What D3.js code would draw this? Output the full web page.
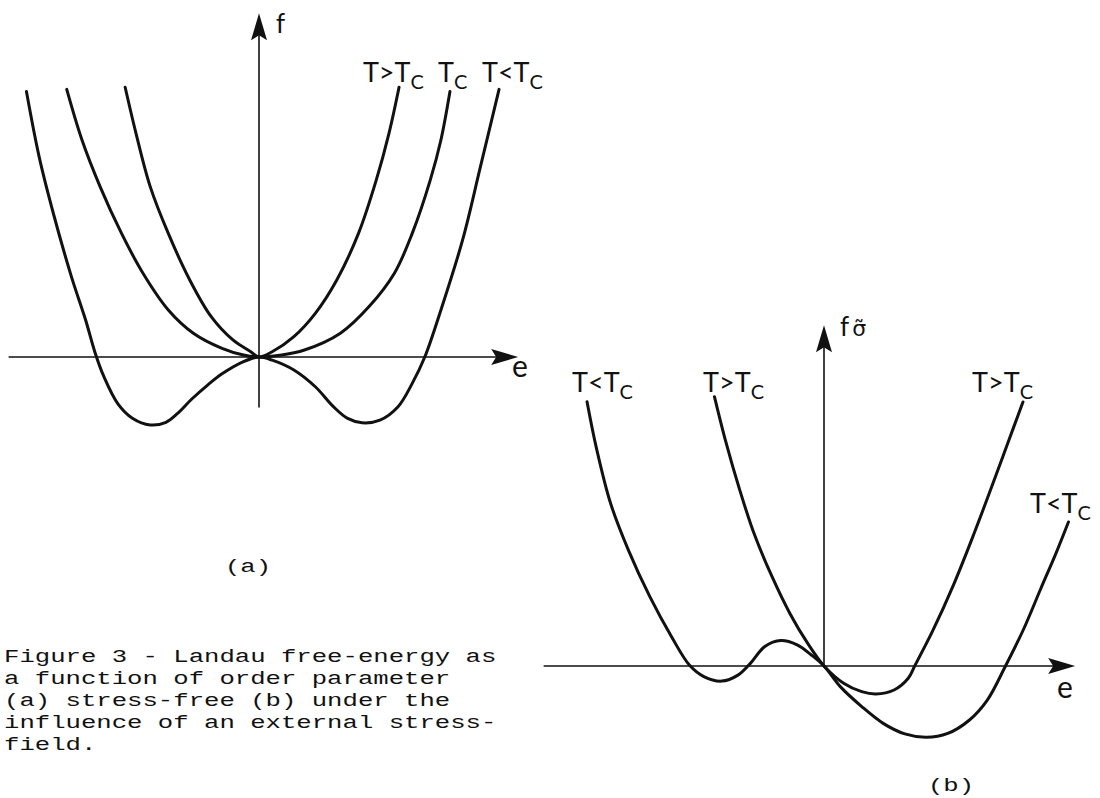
<!DOCTYPE html>
<html>
<head>
<meta charset="utf-8">
<script src="https://cdn.jsdelivr.net/npm/d3@7/dist/d3.min.js"></script>
<style>
  body { margin: 0; background: #fff; }
  .curve { fill: none; stroke: #111; stroke-width: 3; stroke-linejoin: round; stroke-linecap: round; }
  .axis  { stroke: #111; stroke-width: 1.6; }
  .lbl   { font-family: Lato, "Open Sans", sans-serif; fill: #111; }
  .cap   { font-family: "Courier New", "Liberation Mono", monospace; fill: #111; font-size: 19px; }
</style>
</head>
<body>
<svg id="fig" width="1100" height="798"></svg>
<script>
// ---- panel (a): stress free, points [e, f]
var aAbove = [[-51.8,112.4],[-47.6,93.2],[-42.1,71.0],[-35.1,51.5],[-26.8,32.1],[-18.5,16.8],
  [-10.1,7.1],[-3.2,2.2],[0,0],[5.1,2.2],[13.5,8.5],[21.8,18.2],[30.1,32.1],[38.5,51.5],
  [45.4,73.8],[50.3,93.2],[54.2,112.4]];
var aCrit = [[-74.4,111.5],[-68.5,90.4],[-61.5,71.0],[-53.2,51.5],[-44.9,34.9],[-35.1,19.6],
  [-25.4,9.9],[-14.3,3.6],[-6.0,0.8],[0,0],[7.9,0.7],[17.6,2.9],[31.5,9.9],[42.6,21.0],
  [52.4,34.9],[59.3,51.5],[66.3,73.8],[70.4,90.4],[73.9,110.6]];
var aBelow = [[-90.0,110.6],[-85.1,83.5],[-79.6,59.9],[-72.6,33.5],[-67.1,15.4],[-63.5,2.0],
  [-60.1,-8.0],[-54.6,-19.5],[-49.0,-25.5],[-42.1,-28.3],[-36.0,-27.2],[-31.5,-23.5],
  [-26.0,-17.5],[-20.0,-11.8],[-14.3,-7.0],[-6.0,-1.9],[0,0],[5.1,-1.3],[13.5,-5.4],[21.8,-12.4],
  [28.8,-20.7],[34.3,-25.6],[39.9,-27.4],[46.8,-26.3],[53.8,-20.7],[59.3,-11.0],[64.2,0.1],
  [70.4,19.6],[78.8,48.8],[85.7,79.3],[92.9,111.5]];

// ---- panel (b): under an external stress
var bAbove = [[-42.4,112.2],[-38.2,94.2],[-32.6,73.3],[-27.1,55.3],[-20.1,37.2],[-13.2,21.9],
  [-6.3,9.4],[0,0],[7.6,-7.2],[14.6,-10.7],[20.1,-11.7],[27.1,-10.0],[32.6,-5.1],[35.1,0],
  [42.0,14.5],[50.0,33.5],[58.0,55.0],[65.0,75.0],[71.0,92.5],[77.0,110.0]];
var bBelow = [[-91.7,110.1],[-88.2,91.4],[-82.6,67.8],[-75.7,48.3],[-67.4,28.9],[-59.0,12.2],
  [-52.1,0.4],[-46.5,-4.4],[-39.6,-6.3],[-33.3,-3.8],[-28.5,1.1],[-22.9,8.1],[-16.7,10.6],
  [-10.4,8.8],[-4.9,4.6],[0,0],[6.3,-8.6],[14.6,-16.9],[22.9,-23.9],[31.3,-28.3],
  [39.6,-29.7],[47.9,-28.1],[56.3,-22.5],[63.2,-14.2],[70.1,-0.3],[77.1,15.0],[84.0,32.5],
  [89.6,46.5],[94.6,60.0]];

// curve labels: [text, subscript, e, f]
var aLabels = [["T>T","C",40.2,114.6],["T","C",69.3,114.6],["T<T","C",86.3,114.6]];
var bLabels = [["T<T","C",-97.5,114.2],["T>T","C",-46.8,114.2],["T>T","C",57.3,114.2],["T<T","C",79.7,63.8]];

var caption = ["Figure 3 - Landau free-energy as",
  "a function of order parameter",
  "(a) stress-free (b) under the",
  "influence of an external stress-",
  "field."];

var svg = d3.select("#fig");
svg.append("rect").attr("width",1100).attr("height",798).attr("fill","#fff");

// typed text of the scan is stretched sideways
var stretch = 1.35;

function arrowHead(g, x, y, dir) {
  // tip at (x,y)
  var p = "M0,0 L-8,27 L0,22 L8,27 Z";
  g.append("path").attr("d", p).attr("fill","#111")
    .attr("transform", "translate(" + x + "," + y + ")" + (dir == "right" ? " rotate(90)" : ""));
}

function panel(cx, cy, curves, labels, xAxisEnds, yAxisEnds, yLabel, eLabel) {
  var x = d3.scaleLinear().domain([-100, 100]).range([cx - 258.4, cx + 258.4]);
  var y = d3.scaleLinear().domain([0, 100]).range([cy, cy - 240]);
  var g = svg.append("g");

  // axes
  g.append("line").attr("class","axis")
    .attr("x1", x(xAxisEnds[0])).attr("y1", y(0))
    .attr("x2", x(xAxisEnds[1]) - 10).attr("y2", y(0));
  arrowHead(g, x(xAxisEnds[1]), y(0), "right");
  g.append("line").attr("class","axis")
    .attr("x1", x(0)).attr("y1", y(yAxisEnds[0]))
    .attr("x2", x(0)).attr("y2", y(yAxisEnds[1]) + 10);
  arrowHead(g, x(0), y(yAxisEnds[1]), "up");

  var line = d3.line()
    .x(function(d) { return x(d[0]); })
    .y(function(d) { return y(d[1]); })
    .curve(d3.curveCatmullRom.alpha(0.5));

  g.selectAll("path.curve").data(curves).enter().append("path")
    .attr("class","curve").attr("d", line);

  labels.forEach(function(l) {
    var t = g.append("text").attr("class","lbl")
      .attr("x", x(l[2])).attr("y", y(l[3])).attr("font-size", 27);
    t.append("tspan").text(l[0]);
    t.append("tspan").attr("font-size", 20).attr("dy", 7).text(l[1]);
  });

  // axis names
  var fl = g.append("text").attr("class","lbl").attr("font-size", 26)
    .attr("x", x(yLabel[1])).attr("y", y(yLabel[2]));
  fl.append("tspan").text("f");
  if (yLabel[0]) fl.append("tspan").attr("dx", 3)
    .attr("font-family", "DejaVu Sans").attr("font-size", 22).text("\u03C3\u0303");
  g.append("text").attr("class","lbl").attr("font-size", 30)
    .attr("x", x(eLabel[0])).attr("y", y(eLabel[1])).text("e");
  return g;
}

panel(259, 357, [aBelow, aCrit, aAbove], aLabels, [-96.9, 100.3], [-21, 143.2],
  [false, 6.6, 135], [97.9, -8.3]);
panel(824, 666, [bBelow, bAbove], bLabels, [-108.5, 97.2], [0, 142],
  [true, 6.2, 137.5], [90.2, -13.3]);

var typed = svg.append("g").attr("transform", "scale(" + stretch + ",1)");
typed.append("text").attr("class","cap").attr("x", 248 / stretch).attr("y", 572)
  .attr("text-anchor","middle").text("(a)");
typed.append("text").attr("class","cap").attr("x", 951 / stretch).attr("y", 791)
  .attr("text-anchor","middle").text("(b)");

typed.append("g").selectAll("text").data(caption).enter().append("text")
  .attr("class","cap")
  .attr("x", 4 / stretch)
  .attr("y", function(d, i) { return 662 + i * 22; })
  .text(function(d) { return d; });
</script>
</body>
</html>
